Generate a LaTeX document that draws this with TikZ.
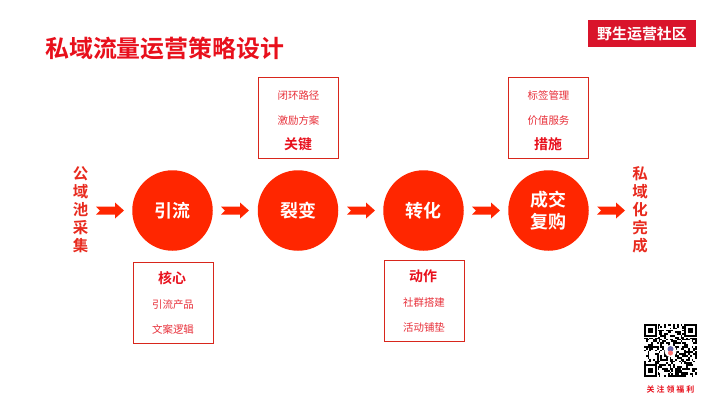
\documentclass[tikz,border=0pt]{standalone}
\usepackage{fontspec}
\newfontfamily\cjk{Noto Sans CJK SC}
\newfontfamily\cjkb{Noto Sans CJK SC Bold}
\definecolor{circ}{HTML}{FF2600}
\definecolor{tred}{HTML}{E8101C}
\definecolor{lred}{HTML}{E8303A}
\definecolor{brd}{HTML}{D8261C}
\definecolor{logo}{HTML}{D9142B}
\definecolor{side}{HTML}{E82A1E}
\tikzset{
  x=1bp,y=-1bp,
  stepcirc/.style={circle,fill=circ,minimum size=80.5bp,inner sep=0pt,text=white,font=\cjkb\fontsize{18}{22.5}\selectfont,align=center},
  infobox/.style={draw=brd,line width=0.9bp,fill=white,minimum width=80bp,minimum height=81bp,inner sep=0pt},
  small/.style={text=lred,font=\cjk\fontsize{10.5}{12}\selectfont,inner sep=0pt},
  head/.style={text=tred,font=\cjkb\fontsize{14}{16}\selectfont,inner sep=0pt},
  sidetxt/.style={text=side,font=\cjkb\fontsize{15.5}{18}\selectfont,inner sep=0pt,align=center},
  blockarrow/.style={fill=circ,draw=none},
}
\newcommand{\blockarr}[1]{%
  \fill[blockarrow] (#1) ++(0,-4) -- ++(19,0) -- ++(0,-4) -- ++(9,8) -- ++(-9,8) -- ++(0,-4) -- ++(-19,0) -- ++(4,-4) -- cycle;
}
\begin{document}
\begin{tikzpicture}
\useasboundingbox (0,0) rectangle (720,405);
\fill[white] (0,0) rectangle (720,405);
% title
\node[anchor=west,inner sep=0pt,text=tred,font=\cjkb\fontsize{24}{28}\selectfont] (title) at (45,48) {私域流量运营策略设计};
% logo
\node[fill=logo,minimum width=108bp,minimum height=27bp,inner sep=0pt,text=white,font=\cjkb\fontsize{15}{17}\selectfont] (logo) at (642,33.5) {野生运营社区};
% circles
\node[stepcirc] (c1) at (172.5,210.5) {引流};
\node[stepcirc] (c2) at (298,210.5) {裂变};
\node[stepcirc] (c3) at (423.5,210.5) {转化};
\node[stepcirc] (c4) at (548.5,210.5) {成交\\复购};
% side
\node[sidetxt] (s1) at (80.5,210) {公\\域\\池\\采\\集};
\node[sidetxt] (s2) at (640,210) {私\\域\\化\\完\\成};
% arrows
\coordinate (a0) at (96,210.5);
\coordinate (a1) at (221,210.5);
\coordinate (a2) at (347,210.5);
\coordinate (a3) at (472,210.5);
\coordinate (a4) at (597,210.5);
\blockarr{a0}
\blockarr{a1}
\blockarr{a2}
\blockarr{a3}
\blockarr{a4}
% boxes
\node[infobox] (b1) at (173,303) {};
\node[head] (b1h) at (172,278.5) {核心};
\node[small] (b1a) at (173,304.5) {引流产品};
\node[small] (b1b) at (173,329.5) {文案逻辑};
\node[infobox] (b2) at (298.5,117.5) {};
\node[small] (b2a) at (298.5,95.5) {闭环路径};
\node[small] (b2b) at (298.5,120.5) {激励方案};
\node[head] (b2h) at (298,144.5) {关键};
\node[infobox] (b3) at (424,301) {};
\node[head] (b3h) at (423,276.5) {动作};
\node[small] (b3a) at (424,302.5) {社群搭建};
\node[small] (b3b) at (424,327.5) {活动铺垫};
\node[infobox] (b4) at (548.5,117.5) {};
\node[small] (b4a) at (548.5,95.5) {标签管理};
\node[small] (b4b) at (548.5,120.5) {价值服务};
\node[head] (b4h) at (548,144.5) {措施};
% QR
\pgfmathsetseed{4217}
\foreach \i in {0,...,28}{
  \foreach \j in {0,...,28}{
    \pgfmathparse{rnd<0.5?1:0}
    \ifnum\pgfmathresult=1
      \fill[black] ({644+\i*1.83},{324+\j*1.83}) rectangle ++(1.83,1.83);
    \fi
  }
}
\foreach \px/\py in {644/324,684.3/324,644/364.3}{
  \fill[white] (\px-0.8,\py-0.8) rectangle ++(14.4,14.4);
  \fill[black] (\px,\py) rectangle ++(12.8,12.8);
  \fill[white] (\px+1.83,\py+1.83) rectangle ++(9.14,9.14);
  \fill[black] (\px+3.66,\py+3.66) rectangle ++(5.48,5.48);
}
\fill[white] (670.5,351) circle (6);
\fill[black!55!blue!60!white] (670.5,349) circle (3);
\fill[red!55!white] (670.5,353) circle (2.5);
\node[inner sep=0pt,text=tred,font=\cjkb\fontsize{8}{10}\selectfont] (qrt) at (670.5,389.5) {关\hspace{2bp}注\hspace{2bp}领\hspace{2bp}福\hspace{2bp}利};
\end{tikzpicture}
\end{document}
